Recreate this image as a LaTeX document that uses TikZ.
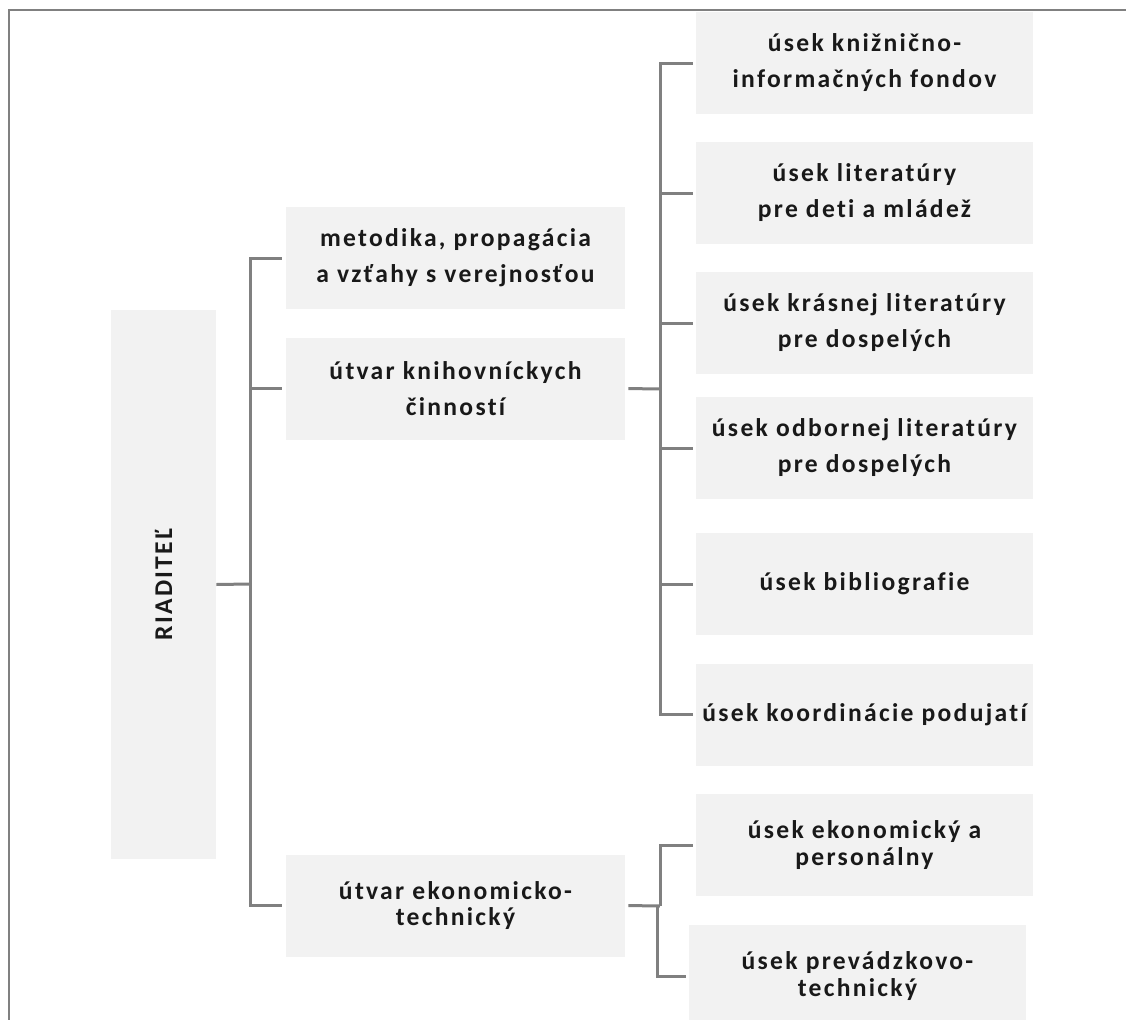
\documentclass[tikz,border=0pt]{standalone}
\usepackage{graphicx}
\usepackage{fontspec}
\setmainfont{Carlito}[LetterSpace=9,Ligatures=NoCommon]
\definecolor{boxgray}{HTML}{F2F2F2}
\definecolor{linegray}{HTML}{808080}

\begin{document}
\begin{tikzpicture}[
      x=0.25mm,
      y=-0.25mm,
      unit/.style={
        fill=boxgray,
        inner sep=0pt,
        align=center,
        text=black!90,
        font=\bfseries\fontsize{18.2}{25.6}\selectfont,
        minimum width=84.75mm,
        minimum height=25.5mm
      },
      sub/.style={
        unit,
        minimum width=84.25mm
      },
      tight/.style={
        font=\bfseries\fontsize{18.2}{18.6}\selectfont
      },
      link/.style={
        linegray,
        line width=0.75mm
      },
      pageframe/.style={
        linegray,
        line width=0.5mm
      }
    ]
      \clip (0,0) rectangle (1126,1020);
      \draw[pageframe] (9,1020) -- (9,10) -- (1126,10);

      \node[unit,minimum width=26.25mm,minimum height=137.25mm] (boss) at (163.5,584.5) {\rotatebox{90}{RIADITEĽ}};

      \foreach \y/\n/\l in {258/u1/{metodika, propagácia\\a vzťahy s verejnosťou},388.5/u2/{útvar knihovníckych\\činností}}
        \node[unit] (\n) at (455.5,\y) {\l};
      \node[unit,tight] (u3) at (455.5,905.5) {útvar ekonomicko-\\technický};

      \foreach \y/\n/\l in {63/s1/{úsek knižnično-\\informačných fondov},193/s2/{úsek literatúry\\pre deti a mládež},323/s3/{úsek krásnej literatúry\\pre dospelých},448/s4/{úsek odbornej literatúry\\pre dospelých},584/s5/{úsek bibliografie},714.5/s6/{úsek koordinácie podujatí}}
        \node[sub] (\n) at (864.5,\y) {\l};
      \node[sub,tight] (s7) at (864.5,845) {úsek ekonomický a\\personálny};
      \node[sub,tight] (s8) at (857.5,976) {úsek prevádzkovo-\\technický};

      \coordinate (t1) at (250,584);
      \coordinate (t2) at (660,389);
      \coordinate (t3) at (660,906);
      \coordinate (t4) at (657,906);

      \draw[link] (boss.east) -- (t1);
      \draw[link,shorten <=1mm,shorten >=1mm] (u1.west) -| (t1) |- (u3.west);
      \draw[link,shorten >=1mm] (t1 |- u2.west) -- (u2.west);

      \draw[link,shorten <=0.75mm] (u2.east) -- (t2);
      \draw[link,shorten <=0.75mm,shorten >=0.75mm] (s1.west) -| (t2) |- (s6.west);
      \foreach \n in {s2,s3,s4,s5}
        \draw[link,shorten >=0.75mm] (t2 |- \n.west) -- (\n.west);

      \draw[link,shorten <=0.75mm] (u3.east) -- (t3);
      \draw[link,shorten >=0.75mm] (t3) |- (s7.west);
      \draw[link,shorten >=0.75mm] (t4) |- (s8.west);
    \end{tikzpicture}
\end{document}
